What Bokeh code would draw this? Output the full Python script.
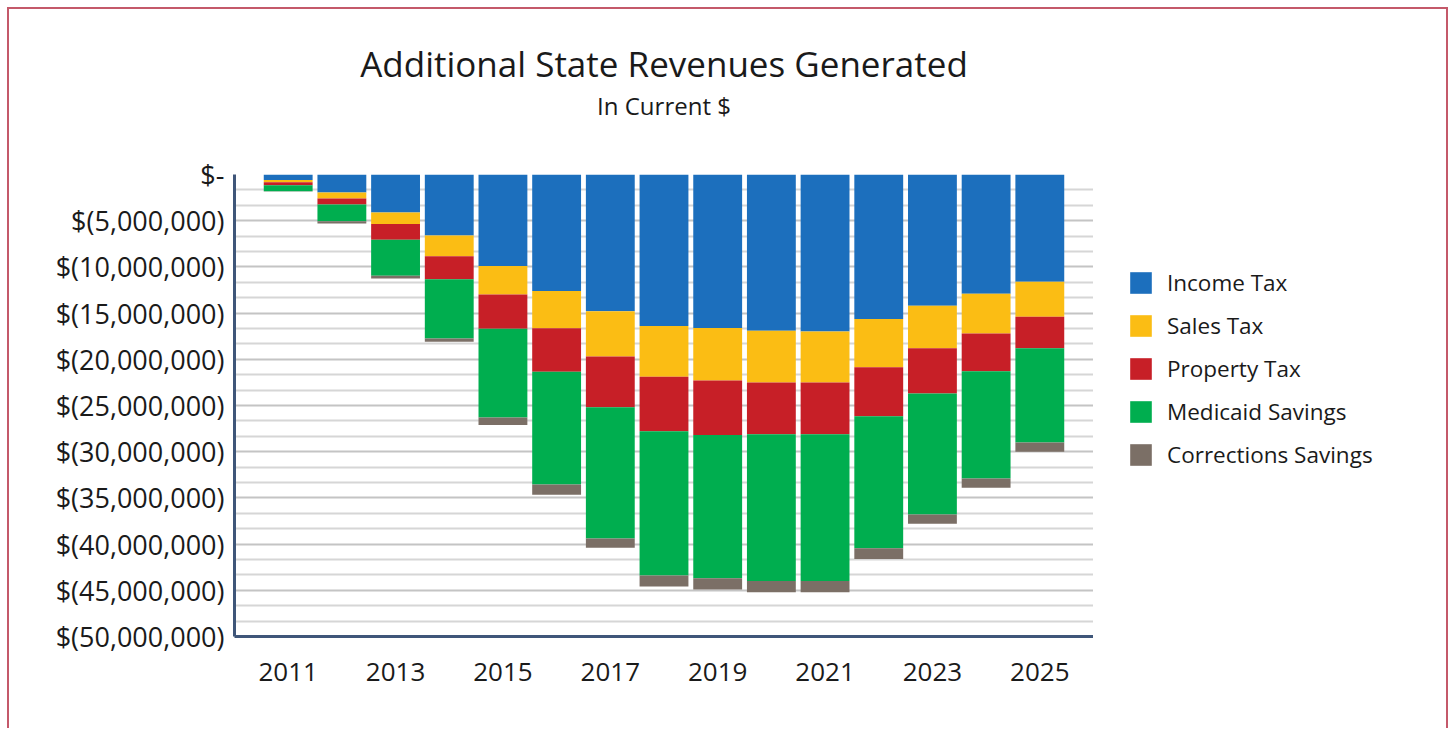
from bokeh.plotting import figure
from bokeh.layouts import row
from bokeh.models import FixedTicker, Legend, LegendItem, Title, Range1d
from bokeh.embed import file_html
from bokeh.resources import INLINE

# ---- data (US$, negative = shown in parentheses) ----
years = [2011, 2012, 2013, 2014, 2015, 2016, 2017, 2018, 2019, 2020, 2021, 2022, 2023, 2024, 2025]
income_tax = [-0.60e6, -1.95e6, -4.1e6, -6.6e6, -9.9e6, -12.6e6, -14.8e6, -16.4e6, -16.6e6, -16.9e6, -17.0e6, -15.65e6, -14.2e6, -12.9e6, -11.6e6]
sales_tax = [-0.25e6, -0.65e6, -1.25e6, -2.25e6, -3.1e6, -4.05e6, -4.9e6, -5.5e6, -5.7e6, -5.6e6, -5.5e6, -5.2e6, -4.6e6, -4.3e6, -3.8e6]
property_tax = [-0.30e6, -0.65e6, -1.7e6, -2.5e6, -3.7e6, -4.7e6, -5.5e6, -5.9e6, -5.9e6, -5.6e6, -5.6e6, -5.3e6, -4.9e6, -4.1e6, -3.4e6]
medicaid_savings = [-0.65e6, -1.8e6, -3.9e6, -6.4e6, -9.6e6, -12.2e6, -14.2e6, -15.6e6, -15.5e6, -15.9e6, -15.9e6, -14.3e6, -13.1e6, -11.6e6, -10.2e6]
corrections_savings = [-0.05e6, -0.25e6, -0.3e6, -0.35e6, -0.8e6, -1.1e6, -1.0e6, -1.2e6, -1.2e6, -1.2e6, -1.2e6, -1.15e6, -1.0e6, -1.0e6, -1.0e6]

series_keys = ["income", "sales", "property", "medicaid", "corrections"]
series_names = ["Income Tax", "Sales Tax", "Property Tax", "Medicaid Savings", "Corrections Savings"]
series_colors = ["#1c6fbd", "#fbbd14", "#c71f27", "#00ae4f", "#7b6f66"]

y_tick_values = [0, -5e6, -10e6, -15e6, -20e6, -25e6, -30e6, -35e6, -40e6, -45e6, -50e6]
y_tick_labels = ["$-", "$(5,000,000)", "$(10,000,000)", "$(15,000,000)", "$(20,000,000)",
                 "$(25,000,000)", "$(30,000,000)", "$(35,000,000)", "$(40,000,000)",
                 "$(45,000,000)", "$(50,000,000)"]
x_tick_years = [2011, 2013, 2015, 2017, 2019, 2021, 2023, 2025]

title_text = "Additional State Revenues Generated"
subtitle_text = "In Current $"

FONT = "Open Sans"
TEXT = "#1a1a1a"
FRAME_RED = "#c4596a"

data = dict(year=years, income=income_tax, sales=sales_tax, property=property_tax,
            medicaid=medicaid_savings, corrections=corrections_savings)

# ---------------- chart ----------------
p = figure(width=1093, height=728, output_backend="svg", toolbar_location=None,
           x_range=Range1d(2010, 2026), y_range=Range1d(-50e6, 0),
           min_border_left=234, min_border_right=0, min_border_top=174, min_border_bottom=92,
           title=None)
# thin red page frame (top and left) drawn as inset shadows on the host element
p.styles = {
    "background-color": "white",
    "box-shadow": ("inset 0 7px 0 0 white, inset 7px 0 0 0 white, "
                   f"inset 0 9px 0 0 {FRAME_RED}, inset 9px 0 0 0 {FRAME_RED}"),
}
p.outline_line_color = None
p.background_fill_color = "white"
p.border_fill_color = None

renderers = p.vbar_stack(series_keys, x="year", width=0.91, color=series_colors,
                         line_color=None, source=data)

# titles (spacer, subtitle, main title - stacked upward)
spacer = Title(text=" ", text_font_size="10px", standoff=40)
p.add_layout(spacer, "above")
sub = Title(text=subtitle_text, align="center", text_font=FONT, text_font_size="24px",
            text_font_style="normal", text_color=TEXT, standoff=0)
p.add_layout(sub, "above")
main = Title(text=title_text, align="center", text_font=FONT, text_font_size="35px",
             text_font_style="normal", text_color=TEXT, standoff=0)
p.add_layout(main, "above")

# grid
minor_lines = [-(i * 5e6 / 3) for i in range(1, 31) if i % 3 != 0]
p.ygrid.ticker = FixedTicker(ticks=y_tick_values, minor_ticks=minor_lines)
p.ygrid.grid_line_color = "#c4c4c4"
p.ygrid.grid_line_width = 2
p.ygrid.minor_grid_line_color = "#d6d6d6"
p.ygrid.minor_grid_line_width = 2
p.xgrid.visible = False

# axes
ax = p.yaxis[0]
ax.ticker = FixedTicker(ticks=y_tick_values)
ax.major_label_overrides = {v: lab for v, lab in zip(y_tick_values, y_tick_labels)}
ax.major_label_text_font = FONT
ax.major_label_text_font_size = "27px"
ax.major_label_text_color = TEXT
ax.major_label_standoff = 4
ax.axis_line_color = "#3f5679"
ax.axis_line_width = 3
ax.major_tick_line_color = None
ax.minor_tick_line_color = None

bx = p.xaxis[0]
bx.ticker = FixedTicker(ticks=x_tick_years)
bx.major_label_text_font = FONT
bx.major_label_text_font_size = "26px"
bx.major_label_text_color = TEXT
bx.major_label_standoff = 20
bx.axis_line_color = "#3f5679"
bx.axis_line_width = 3
bx.major_tick_line_color = None
bx.minor_tick_line_color = None

# ---------------- legend panel ----------------
lg = figure(width=357, height=728, output_backend="svg", toolbar_location=None,
            x_axis_type=None, y_axis_type=None, min_border=0, title=None,
            x_range=Range1d(0, 1), y_range=Range1d(0, 1))
lg.styles = {
    "background-color": "white",
    "box-shadow": ("inset 0 7px 0 0 white, inset -2px 0 0 0 white, "
                   f"inset 0 9px 0 0 {FRAME_RED}, inset -4px 0 0 0 {FRAME_RED}"),
}
lg.outline_line_color = None
lg.background_fill_color = None
lg.border_fill_color = None
lg.grid.visible = False
# same stacked series (outside this panel's visible range) supply the legend swatches
swatches = lg.vbar_stack(series_keys, x="year", width=0.91, color=series_colors,
                         line_color=None, source=data)
items = [LegendItem(label=n, renderers=[r]) for n, r in zip(series_names, swatches)]
legend = Legend(items=items, location=(34, 166), glyph_width=27, glyph_height=27,
                label_height=27, spacing=12, padding=0, margin=0, label_standoff=13,
                label_text_font=FONT, label_text_font_size="22.5px", label_text_color=TEXT,
                border_line_color=None, background_fill_alpha=0)
lg.add_layout(legend, "center")

layout = row(p, lg)
open("out.html", "w").write(file_html(layout, INLINE))
